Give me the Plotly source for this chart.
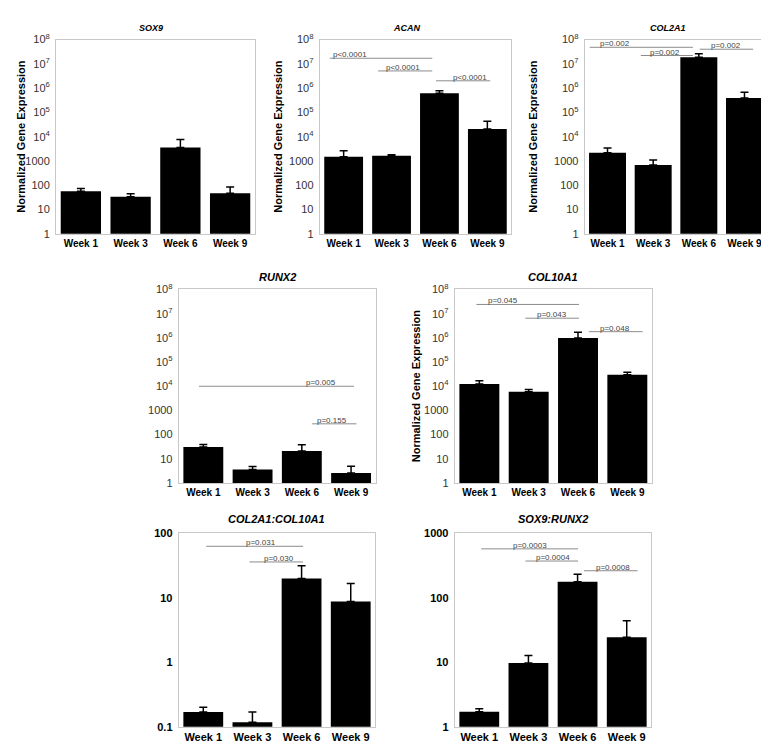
import math
import plotly.graph_objects as go

W, H = 769, 743
FONT = "Liberation Sans, Arial, sans-serif"

weeks = ["Week 1", "Week 3", "Week 6", "Week 9"]

# bar heights and tops of the (upper) error bars
sox9 = [56, 34, 3600, 47]
sox9_top = [74, 45, 7600, 85]
acan = [1500, 1650, 620000, 20500]
acan_top = [2650, 1800, 770000, 43000]
col2a1 = [2200, 690, 1.87e7, 3.9e5]
col2a1_top = [3400, 1100, 2.6e7, 6.8e5]
runx2 = [31, 3.6, 21, 2.6]
runx2_top = [39, 4.8, 38, 4.9]
col10a1 = [12500, 5900, 9.8e5, 29700]
col10a1_top = [17000, 7300, 1.7e6, 38000]
ratio_col = [0.169, 0.117, 19.9, 8.75]
ratio_col_top = [0.20, 0.169, 31.3, 16.6]
ratio_sox = [1.71, 9.7, 177, 24.3]
ratio_sox_top = [1.9, 12.7, 231, 44]

# significance brackets: (start, end) in category units, level, label
acan_sig = [(-0.29, 1.85, 1.7e7, "p<0.0001"), (0.72, 1.85, 5.1e6, "p<0.0001"), (1.93, 3.06, 2.0e6, "p<0.0001")]
acan_sig_x = [0.13, 1.24, 2.63]
col2a1_sig = [(-0.39, 1.87, 4.8e7, "p=0.002"), (0.73, 1.87, 2.2e7, "p=0.002"), (2.02, 3.19, 4.0e7, "p=0.002")]
col2a1_sig_x = [0.16, 1.26, 2.59]
runx2_sig = [(-0.09, 3.06, 1.0e4, "p=0.005"), (2.21, 3.11, 280, "p=0.155")]
runx2_sig_x = [2.39, 2.62]
col10a1_sig = [(-0.06, 2.02, 2.4e7, "p=0.045"), (0.93, 2.02, 6.5e6, "p=0.043"), (2.22, 3.31, 1.8e6, "p=0.048")]
col10a1_sig_x = [0.48, 1.48, 2.76]
ratio_col_sig = [(0.06, 2.03, 63, "p=0.031"), (0.94, 2.03, 36, "p=0.030")]
ratio_col_sig_x = [1.17, 1.55]
ratio_sox_sig = [(0.04, 2.01, 575, "p=0.0003"), (0.94, 2.01, 372, "p=0.0004"), (2.13, 3.22, 263, "p=0.0008")]
ratio_sox_sig_x = [1.04, 1.49, 2.72]

sup_ticks = ["1", "10", "100", "1000", "10<sup>4</sup>", "10<sup>5</sup>",
             "10<sup>6</sup>", "10<sup>7</sup>", "10<sup>8</sup>"]

panels = [
    dict(title="SOX9", v=sox9, t=sox9_top, sig=[], sx=[], box=(48, 247, 24, 222), tx=143, ty=12, tsize=9, xsize=10, yt=13, rng=(0, 8), style="top"),
    dict(title="ACAN", v=acan, t=acan_top, sig=acan_sig, sx=acan_sig_x, box=(311.7, 503.3, 24, 222), tx=398, ty=12, tsize=9, xsize=10, yt=270, rng=(0, 8), style="top"),
    dict(title="COL2A1", v=col2a1, t=col2a1_top, sig=col2a1_sig, sx=col2a1_sig_x, box=(576.7, 759.3, 24, 222), tx=660, ty=12, tsize=9, xsize=10, yt=525, rng=(0, 8), style="top"),
    dict(title="RUNX2", v=runx2, t=runx2_top, sig=runx2_sig, sx=runx2_sig_x, box=(170.7, 367.7, 278.7, 476), tx=269, ty=266, tsize=11, xsize=10, yt=None, rng=(0, 8), style="top"),
    dict(title="COL10A1", v=col10a1, t=col10a1_top, sig=col10a1_sig, sx=col10a1_sig_x, box=(446.7, 644, 278.7, 476), tx=545, ty=266, tsize=11, xsize=10, yt=408, rng=(0, 8), style="top"),
    dict(title="COL2A1:COL10A1", v=ratio_col, t=ratio_col_top, sig=ratio_col_sig, sx=ratio_col_sig_x, box=(170.7, 367.3, 527.3, 724.3), tx=268, ty=513, tsize=11, xsize=11, yt=None, rng=(-1, 2), style="bottom"),
    dict(title="SOX9:RUNX2", v=ratio_sox, t=ratio_sox_top, sig=ratio_sox_sig, sx=ratio_sox_sig_x, box=(446.7, 643.3, 527.3, 724.3), tx=545, ty=513, tsize=11, xsize=11, yt=None, rng=(0, 3), style="bottom"),
]

fig = go.Figure()
shapes = []
annotations = []

for i, p in enumerate(panels, start=1):
    xa = "x" if i == 1 else f"x{i}"
    ya = "y" if i == 1 else f"y{i}"
    x0, x1, y0, y1 = p["box"]
    dom_x = [x0 / W, x1 / W]
    dom_y = [1 - y1 / H, 1 - y0 / H]

    fig.add_trace(go.Bar(
        x=weeks, y=p["v"], xaxis=xa, yaxis=ya, showlegend=False,
        marker=dict(color="black", line_width=0),
        error_y=dict(type="data", symmetric=False,
                     array=[t - v for t, v in zip(p["t"], p["v"])],
                     arrayminus=[0] * 4, color="black", thickness=1.5, width=4),
    ))

    r0, r1 = p["rng"]
    if p["style"] == "top":
        tvals = [10 ** k for k in range(0, 9)]
        ttext = sup_ticks
        tfont = dict(family=FONT, size=11, color="#333333")
    else:
        tvals = [10 ** k for k in range(r0, r1 + 1)]
        ttext = ["<b>%g</b>" % v for v in tvals]
        tfont = dict(family=FONT, size=11, color="black")

    fig.layout[xa.replace("x", "xaxis")] = dict(
        domain=dom_x, anchor=ya, range=[-0.5, 3.5], showgrid=False, zeroline=False,
        showline=True, mirror=True, linecolor="#c8c8c8", linewidth=1, ticks="",
        tickvals=weeks, ticktext=["<b>%s</b>" % w for w in weeks],
        tickfont=dict(family=FONT, size=p["xsize"], color="black"),
    )
    fig.layout[ya.replace("y", "yaxis")] = dict(
        domain=dom_y, anchor=xa, type="log", range=[r0, r1], showgrid=False, zeroline=False,
        showline=True, mirror=True, linecolor="#c8c8c8", linewidth=1, ticks="",
        tickvals=tvals, ticktext=ttext, tickfont=tfont, ticklabelstandoff=3,
    )

    # convert category / value coordinates into paper coordinates
    def px(c):
        return dom_x[0] + (c + 0.5) / 4 * (dom_x[1] - dom_x[0])

    def py(v):
        return dom_y[0] + (math.log10(v) - r0) / (r1 - r0) * (dom_y[1] - dom_y[0])

    for (a, b, lvl, lab), lx in zip(p["sig"], p["sx"]):
        shapes.append(dict(type="line", xref="paper", yref="paper",
                           x0=px(a), x1=px(b), y0=py(lvl), y1=py(lvl),
                           line=dict(color="#8c8c8c", width=1)))
        annotations.append(dict(x=px(lx), y=py(lvl), xref="paper", yref="paper", text=lab,
                                showarrow=False, xanchor="center", yanchor="bottom", yshift=-3,
                                font=dict(family=FONT, size=8, color="#444444")))

    annotations.append(dict(x=p["tx"] / W, y=1 - p["ty"] / H, xref="paper", yref="paper",
                            text="<b><i>%s</i></b>" % p["title"], showarrow=False,
                            xanchor="center", yanchor="middle",
                            font=dict(family=FONT, size=p["tsize"], color="black")))
    if p["yt"] is not None:
        annotations.append(dict(x=p["yt"] / W, y=(dom_y[0] + dom_y[1]) / 2, xref="paper", yref="paper",
                                text="<b>Normalized Gene Expression</b>", showarrow=False, textangle=-90,
                                xanchor="center", yanchor="middle",
                                font=dict(family=FONT, size=11, color="black")))

fig.update_layout(
    width=W, height=H,
    margin=dict(l=0, r=0, t=0, b=0),
    paper_bgcolor="white", plot_bgcolor="white",
    bargap=0.19,
    shapes=shapes, annotations=annotations,
    font=dict(family=FONT),
)

fig.write_html("out.html")
